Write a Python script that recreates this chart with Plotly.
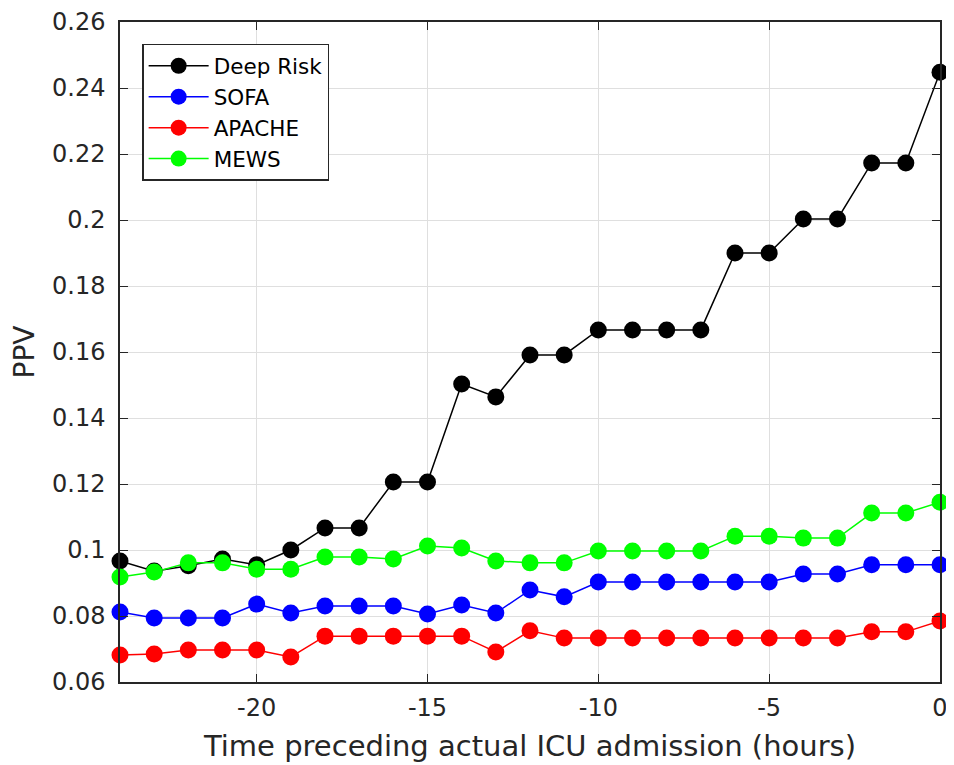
import plotly.graph_objects as go

hours = [-24, -23, -22, -21, -20, -19, -18, -17, -16, -15, -14, -13, -12,
         -11, -10, -9, -8, -7, -6, -5, -4, -3, -2, -1, 0]

deep_risk = [0.0967, 0.0936, 0.0952, 0.0973, 0.0955, 0.1000, 0.1067, 0.1067,
             0.1206, 0.1206, 0.1503, 0.1464, 0.1591, 0.1591, 0.1667, 0.1667,
             0.1667, 0.1667, 0.1900, 0.1900, 0.2003, 0.2003, 0.2173, 0.2173,
             0.2448]
sofa = [0.0812, 0.0794, 0.0794, 0.0794, 0.0836, 0.0809, 0.0830, 0.0830,
        0.0830, 0.0806, 0.0833, 0.0809, 0.0879, 0.0858, 0.0903, 0.0903,
        0.0903, 0.0903, 0.0903, 0.0903, 0.0927, 0.0927, 0.0955, 0.0955,
        0.0955]
apache = [0.0682, 0.0685, 0.0697, 0.0697, 0.0697, 0.0676, 0.0739, 0.0739,
          0.0739, 0.0739, 0.0739, 0.0691, 0.0755, 0.0733, 0.0733, 0.0733,
          0.0733, 0.0733, 0.0733, 0.0733, 0.0733, 0.0733, 0.0752, 0.0752,
          0.0785]
mews = [0.0918, 0.0933, 0.0961, 0.0961, 0.0942, 0.0942, 0.0979, 0.0979,
        0.0973, 0.1012, 0.1006, 0.0967, 0.0961, 0.0961, 0.0997, 0.0997,
        0.0997, 0.0997, 0.1042, 0.1042, 0.1036, 0.1036, 0.1112, 0.1112,
        0.1145]

series_names = ["Deep Risk", "SOFA", "APACHE", "MEWS"]
series_colors = ["#000000", "#0000ff", "#ff0000", "#00ff00"]

y_tickvals = [0.06, 0.08, 0.1, 0.12, 0.14, 0.16, 0.18, 0.2, 0.22, 0.24, 0.26]
y_ticktext = ["0.06", "0.08", "0.1", "0.12", "0.14", "0.16", "0.18", "0.2",
              "0.22", "0.24", "0.26"]
x_tickvals = [-20, -15, -10, -5, 0]
x_ticktext = ["-20", "-15", "-10", "-5", "0"]

fig = go.Figure()
for name, ys, col in zip(series_names, [deep_risk, sofa, apache, mews], series_colors):
    fig.add_trace(go.Scatter(
        x=hours, y=ys, name=name, mode="lines+markers",
        line=dict(color=col, width=1.5),
        marker=dict(color=col, size=17),
        cliponaxis=False,
    ))

axis_color = "#262626"
fig.update_layout(
    width=946, height=757,
    margin=dict(l=112, r=14, t=14, b=83),
    paper_bgcolor="white", plot_bgcolor="white",
    font=dict(family="DejaVu Sans", size=24, color=axis_color),
    showlegend=True,
    legend=dict(
        x=0.027, y=0.967, xanchor="left", yanchor="top",
        bgcolor="white", bordercolor=axis_color, borderwidth=1.5,
        font=dict(family="DejaVu Sans", size=21.5, color="#000000"),
        tracegroupgap=0, itemwidth=60,
    ),
    xaxis=dict(
        range=[-24, 0], tickvals=x_tickvals, ticktext=x_ticktext,
        showgrid=True, gridcolor="#dfdfdf", gridwidth=1,
        showline=True, linecolor=axis_color, linewidth=1.5, mirror="ticks",
        ticks="inside", ticklen=8, tickcolor=axis_color, tickwidth=1,
        zeroline=False, ticklabelstandoff=3, automargin=False,
        tickfont=dict(family="DejaVu Sans", size=24, color=axis_color),
        title=dict(text="Time preceding actual ICU admission (hours)",
                   font=dict(family="DejaVu Sans", size=29, color=axis_color)),
    ),
    yaxis=dict(
        range=[0.06, 0.26], tickvals=y_tickvals, ticktext=y_ticktext,
        showgrid=True, gridcolor="#dfdfdf", gridwidth=1,
        showline=True, linecolor=axis_color, linewidth=1.5, mirror="ticks",
        ticks="inside", ticklen=8, tickcolor=axis_color, tickwidth=1,
        zeroline=False, ticklabelstandoff=8, automargin=False,
        tickfont=dict(family="DejaVu Sans", size=24, color=axis_color),
        title=dict(text="PPV",
                   font=dict(family="DejaVu Sans", size=28, color=axis_color)),
    ),
)

fig.write_html("out.html")
